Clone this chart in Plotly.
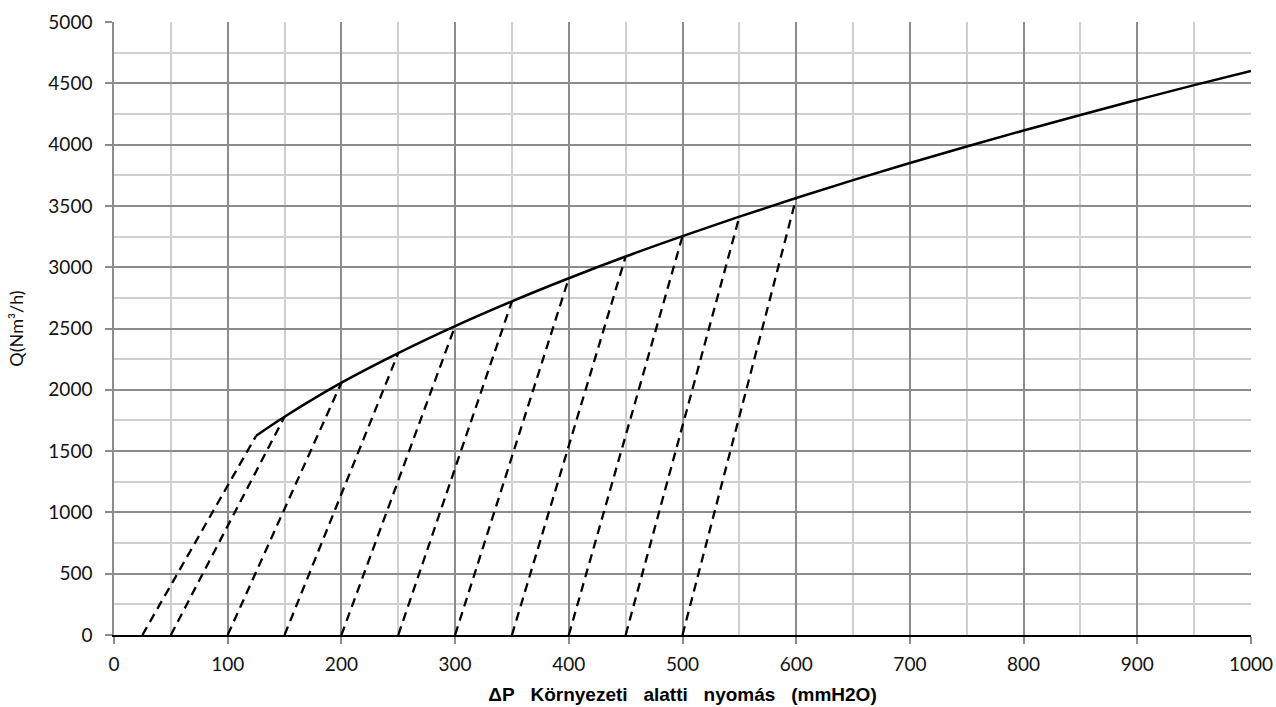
import plotly.graph_objects as go

# Main curve: pressure (mmH2O) vs flow Q (Nm3/h)
curve_dp = [125, 150, 200, 250, 300, 350, 400, 450, 500, 550, 600, 650, 700,
            750, 800, 850, 900, 950, 1000]
curve_q = [1625, 1780, 2058, 2300, 2520, 2722, 2910, 3087, 3253, 3412, 3564,
           3710, 3850, 3985, 4115, 4242, 4365, 4485, 4600]

# Dashed lines: start at Q=0 and end on the curve
dash_start_dp = [25, 50, 100, 150, 200, 250, 300, 350, 400, 450, 500]
dash_end_dp = [125, 150, 200, 250, 300, 350, 400, 450, 500, 550, 600]
dash_end_q = [1625, 1780, 2058, 2300, 2520, 2722, 2910, 3087, 3253, 3412, 3564]

x_ticks = [0, 100, 200, 300, 400, 500, 600, 700, 800, 900, 1000]
y_ticks = [0, 500, 1000, 1500, 2000, 2500, 3000, 3500, 4000, 4500, 5000]

fig = go.Figure()

for xs, xe, ye in zip(dash_start_dp, dash_end_dp, dash_end_q):
    fig.add_trace(go.Scatter(
        x=[xs, xe], y=[0, ye], mode="lines",
        line=dict(color="black", width=2.3, dash="9px,6px"),
        showlegend=False, hoverinfo="skip"))

fig.add_trace(go.Scatter(
    x=curve_dp, y=curve_q, mode="lines",
    line=dict(color="black", width=2.5, shape="spline"),
    showlegend=False))

tick_font = dict(family="Lato, 'Open Sans', sans-serif", size=19, color="#111")
sp = "\u00a0\u00a0\u00a0"
x_title = "\u0394P" + sp + "K\u00f6rnyezeti" + sp + "alatti" + sp + "nyom\u00e1s" + sp + "(mmH2O)"

fig.update_layout(
    width=1276, height=707,
    margin=dict(l=114, r=25, t=22, b=72, autoexpand=False),
    paper_bgcolor="white", plot_bgcolor="white",
    xaxis=dict(
        range=[0, 1000], tickvals=x_ticks, ticktext=[str(v) for v in x_ticks],
        showgrid=True, gridcolor="#8c8c8c", gridwidth=1.5,
        minor=dict(dtick=50, tick0=0, showgrid=True, gridcolor="#cfcfcf", gridwidth=1.5),
        showline=True, linecolor="black", linewidth=2,
        ticks="outside", ticklen=7, tickcolor="#8c8c8c", tickwidth=1.5,
        tickfont=tick_font, zeroline=False, automargin=False,
        ticklabelstandoff=4,
        title=dict(text="<b>" + x_title + "</b>",
                   font=dict(family="Liberation Sans, Arial, sans-serif", size=19, color="black"),
                   standoff=14),
    ),
    yaxis=dict(
        range=[0, 5000], tickvals=y_ticks, ticktext=[str(v) for v in y_ticks],
        showgrid=True, gridcolor="#8c8c8c", gridwidth=1.5,
        minor=dict(dtick=250, tick0=0, showgrid=True, gridcolor="#cfcfcf", gridwidth=1.5),
        showline=True, linecolor="#8c8c8c", linewidth=1.5,
        ticks="outside", ticklen=7, tickcolor="#8c8c8c", tickwidth=1.5,
        tickfont=tick_font, zeroline=False, automargin=False,
        ticklabelstandoff=9,
        title=dict(text="Q(Nm\u00b3/h)",
                   font=dict(family="Lato, 'Open Sans', sans-serif", size=18, color="#111"),
                   standoff=20),
    ),
)

fig.write_html("out.html", config={"displayModeBar": False},
               post_script="document.body.style.margin='0';")
